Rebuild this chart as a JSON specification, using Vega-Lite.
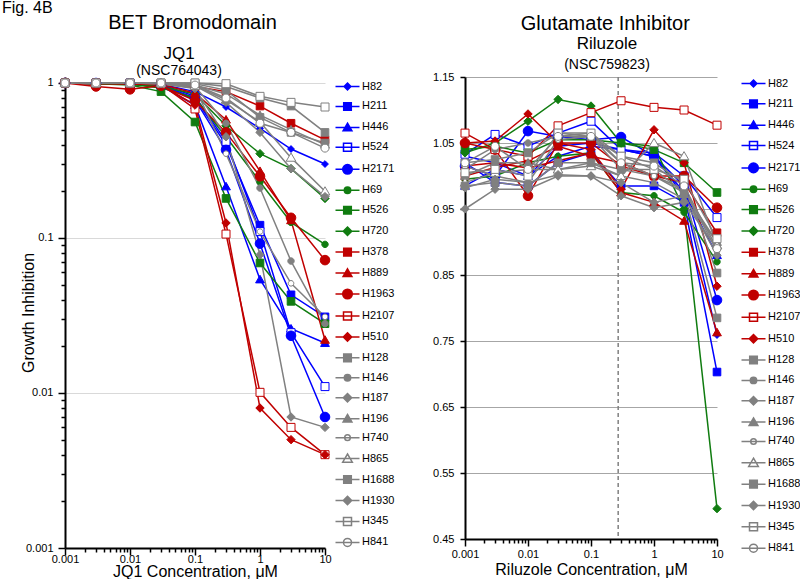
{
"$schema": "https://vega.github.io/schema/vega-lite/v6.json",
"padding": {"left": 2, "top": 0, "right": 0, "bottom": 0},
"title": {"text": "Fig. 4B", "anchor": "start", "fontSize": 16, "offset": -3, "dx": -18},
"datasets": {
"jq1": [
{"cell":"H82","x":0.001,"y":1},{"cell":"H82","x":0.003,"y":1},{"cell":"H82","x":0.01,"y":1},{"cell":"H82","x":0.03,"y":0.98},{"cell":"H82","x":0.1,"y":0.88},{"cell":"H82","x":0.3,"y":0.70},{"cell":"H82","x":1,"y":0.51},{"cell":"H82","x":3,"y":0.375},{"cell":"H82","x":10,"y":0.30},
{"cell":"H211","x":0.001,"y":1},{"cell":"H211","x":0.003,"y":1},{"cell":"H211","x":0.01,"y":0.99},{"cell":"H211","x":0.03,"y":0.97},{"cell":"H211","x":0.1,"y":0.80},{"cell":"H211","x":0.3,"y":0.40},{"cell":"H211","x":1,"y":0.121},{"cell":"H211","x":3,"y":0.043},{"cell":"H211","x":10,"y":0.031},
{"cell":"H446","x":0.001,"y":1},{"cell":"H446","x":0.003,"y":0.99},{"cell":"H446","x":0.01,"y":0.99},{"cell":"H446","x":0.03,"y":0.96},{"cell":"H446","x":0.1,"y":0.72},{"cell":"H446","x":0.3,"y":0.215},{"cell":"H446","x":1,"y":0.054},{"cell":"H446","x":3,"y":0.026},{"cell":"H446","x":10,"y":0.021},
{"cell":"H524","x":0.001,"y":1},{"cell":"H524","x":0.003,"y":1},{"cell":"H524","x":0.01,"y":1},{"cell":"H524","x":0.03,"y":0.98},{"cell":"H524","x":0.1,"y":0.82},{"cell":"H524","x":0.3,"y":0.42},{"cell":"H524","x":1,"y":0.11},{"cell":"H524","x":3,"y":0.0245},{"cell":"H524","x":10,"y":0.011},
{"cell":"H2171","x":0.001,"y":1},{"cell":"H2171","x":0.003,"y":1},{"cell":"H2171","x":0.01,"y":0.99},{"cell":"H2171","x":0.03,"y":0.97},{"cell":"H2171","x":0.1,"y":0.78},{"cell":"H2171","x":0.3,"y":0.37},{"cell":"H2171","x":1,"y":0.092},{"cell":"H2171","x":3,"y":0.0234},{"cell":"H2171","x":10,"y":0.007},
{"cell":"H69","x":0.001,"y":1},{"cell":"H69","x":0.003,"y":0.99},{"cell":"H69","x":0.01,"y":0.98},{"cell":"H69","x":0.03,"y":0.93},{"cell":"H69","x":0.1,"y":0.80},{"cell":"H69","x":0.3,"y":0.45},{"cell":"H69","x":1,"y":0.23},{"cell":"H69","x":3,"y":0.126},{"cell":"H69","x":10,"y":0.091},
{"cell":"H526","x":0.001,"y":1},{"cell":"H526","x":0.003,"y":0.99},{"cell":"H526","x":0.01,"y":0.97},{"cell":"H526","x":0.03,"y":0.88},{"cell":"H526","x":0.1,"y":0.56},{"cell":"H526","x":0.3,"y":0.18},{"cell":"H526","x":1,"y":0.069},{"cell":"H526","x":3,"y":0.039},{"cell":"H526","x":10,"y":0.028},
{"cell":"H720","x":0.001,"y":1},{"cell":"H720","x":0.003,"y":1},{"cell":"H720","x":0.01,"y":0.98},{"cell":"H720","x":0.03,"y":0.95},{"cell":"H720","x":0.1,"y":0.85},{"cell":"H720","x":0.3,"y":0.53},{"cell":"H720","x":1,"y":0.35},{"cell":"H720","x":3,"y":0.28},{"cell":"H720","x":10,"y":0.18},
{"cell":"H378","x":0.001,"y":1},{"cell":"H378","x":0.003,"y":1},{"cell":"H378","x":0.01,"y":1},{"cell":"H378","x":0.03,"y":0.99},{"cell":"H378","x":0.1,"y":0.95},{"cell":"H378","x":0.3,"y":0.88},{"cell":"H378","x":1,"y":0.71},{"cell":"H378","x":3,"y":0.55},{"cell":"H378","x":10,"y":0.43},
{"cell":"H889","x":0.001,"y":1},{"cell":"H889","x":0.003,"y":1},{"cell":"H889","x":0.01,"y":0.99},{"cell":"H889","x":0.03,"y":0.98},{"cell":"H889","x":0.1,"y":0.86},{"cell":"H889","x":0.3,"y":0.58},{"cell":"H889","x":1,"y":0.27},{"cell":"H889","x":3,"y":0.13},{"cell":"H889","x":10,"y":0.022},
{"cell":"H1963","x":0.001,"y":1},{"cell":"H1963","x":0.003,"y":0.95},{"cell":"H1963","x":0.01,"y":0.91},{"cell":"H1963","x":0.03,"y":0.96},{"cell":"H1963","x":0.1,"y":0.77},{"cell":"H1963","x":0.3,"y":0.48},{"cell":"H1963","x":1,"y":0.25},{"cell":"H1963","x":3,"y":0.135},{"cell":"H1963","x":10,"y":0.072},
{"cell":"H2107","x":0.001,"y":1},{"cell":"H2107","x":0.003,"y":1},{"cell":"H2107","x":0.01,"y":0.99},{"cell":"H2107","x":0.03,"y":0.98},{"cell":"H2107","x":0.1,"y":0.68},{"cell":"H2107","x":0.3,"y":0.106},{"cell":"H2107","x":1,"y":0.0101},{"cell":"H2107","x":3,"y":0.006},{"cell":"H2107","x":10,"y":0.004},
{"cell":"H510","x":0.001,"y":1},{"cell":"H510","x":0.003,"y":0.99},{"cell":"H510","x":0.01,"y":0.99},{"cell":"H510","x":0.03,"y":0.97},{"cell":"H510","x":0.1,"y":0.72},{"cell":"H510","x":0.3,"y":0.125},{"cell":"H510","x":1,"y":0.008},{"cell":"H510","x":3,"y":0.005},{"cell":"H510","x":10,"y":0.004},
{"cell":"H128","x":0.001,"y":1},{"cell":"H128","x":0.003,"y":1},{"cell":"H128","x":0.01,"y":1},{"cell":"H128","x":0.03,"y":1},{"cell":"H128","x":0.1,"y":1},{"cell":"H128","x":0.3,"y":0.95},{"cell":"H128","x":1,"y":0.80},{"cell":"H128","x":3,"y":0.71},{"cell":"H128","x":10,"y":0.48},
{"cell":"H146","x":0.001,"y":1},{"cell":"H146","x":0.003,"y":1},{"cell":"H146","x":0.01,"y":1},{"cell":"H146","x":0.03,"y":0.99},{"cell":"H146","x":0.1,"y":0.95},{"cell":"H146","x":0.3,"y":0.55},{"cell":"H146","x":1,"y":0.21},{"cell":"H146","x":3,"y":0.071},{"cell":"H146","x":10,"y":0.028},
{"cell":"H187","x":0.001,"y":1},{"cell":"H187","x":0.003,"y":1},{"cell":"H187","x":0.01,"y":1},{"cell":"H187","x":0.03,"y":0.99},{"cell":"H187","x":0.1,"y":0.92},{"cell":"H187","x":0.3,"y":0.45},{"cell":"H187","x":1,"y":0.078},{"cell":"H187","x":3,"y":0.007},{"cell":"H187","x":10,"y":0.006},
{"cell":"H196","x":0.001,"y":1},{"cell":"H196","x":0.003,"y":1},{"cell":"H196","x":0.01,"y":1},{"cell":"H196","x":0.03,"y":1},{"cell":"H196","x":0.1,"y":0.97},{"cell":"H196","x":0.3,"y":0.85},{"cell":"H196","x":1,"y":0.62},{"cell":"H196","x":3,"y":0.50},{"cell":"H196","x":10,"y":0.40},
{"cell":"H740","x":0.001,"y":1},{"cell":"H740","x":0.003,"y":1},{"cell":"H740","x":0.01,"y":1},{"cell":"H740","x":0.03,"y":0.99},{"cell":"H740","x":0.1,"y":0.93},{"cell":"H740","x":0.3,"y":0.35},{"cell":"H740","x":1,"y":0.11},{"cell":"H740","x":3,"y":0.051},{"cell":"H740","x":10,"y":0.031},
{"cell":"H865","x":0.001,"y":1},{"cell":"H865","x":0.003,"y":1},{"cell":"H865","x":0.01,"y":1},{"cell":"H865","x":0.03,"y":1},{"cell":"H865","x":0.1,"y":0.96},{"cell":"H865","x":0.3,"y":0.78},{"cell":"H865","x":1,"y":0.56},{"cell":"H865","x":3,"y":0.33},{"cell":"H865","x":10,"y":0.20},
{"cell":"H1688","x":0.001,"y":1},{"cell":"H1688","x":0.003,"y":1},{"cell":"H1688","x":0.01,"y":1},{"cell":"H1688","x":0.03,"y":1},{"cell":"H1688","x":0.1,"y":0.99},{"cell":"H1688","x":0.3,"y":0.90},{"cell":"H1688","x":1,"y":0.60},{"cell":"H1688","x":3,"y":0.48},{"cell":"H1688","x":10,"y":0.41},
{"cell":"H1930","x":0.001,"y":1},{"cell":"H1930","x":0.003,"y":1},{"cell":"H1930","x":0.01,"y":1},{"cell":"H1930","x":0.03,"y":1},{"cell":"H1930","x":0.1,"y":0.96},{"cell":"H1930","x":0.3,"y":0.75},{"cell":"H1930","x":1,"y":0.48},{"cell":"H1930","x":3,"y":0.28},{"cell":"H1930","x":10,"y":0.185},
{"cell":"H345","x":0.001,"y":1},{"cell":"H345","x":0.003,"y":1},{"cell":"H345","x":0.01,"y":1},{"cell":"H345","x":0.03,"y":1},{"cell":"H345","x":0.1,"y":1},{"cell":"H345","x":0.3,"y":0.99},{"cell":"H345","x":1,"y":0.82},{"cell":"H345","x":3,"y":0.75},{"cell":"H345","x":10,"y":0.70},
{"cell":"H841","x":0.001,"y":1},{"cell":"H841","x":0.003,"y":1},{"cell":"H841","x":0.01,"y":1},{"cell":"H841","x":0.03,"y":1},{"cell":"H841","x":0.1,"y":0.97},{"cell":"H841","x":0.3,"y":0.80},{"cell":"H841","x":1,"y":0.55},{"cell":"H841","x":3,"y":0.48},{"cell":"H841","x":10,"y":0.38}
],
"ril": [
{"cell":"H82","x":0.001,"y":1.03},{"cell":"H82","x":0.003,"y":1.02},{"cell":"H82","x":0.01,"y":1.0},{"cell":"H82","x":0.03,"y":1.03},{"cell":"H82","x":0.1,"y":1.045},{"cell":"H82","x":0.3,"y":1.04},{"cell":"H82","x":1,"y":1.03},{"cell":"H82","x":3,"y":0.97},{"cell":"H82","x":10,"y":0.759},
{"cell":"H211","x":0.001,"y":1.02},{"cell":"H211","x":0.003,"y":0.99},{"cell":"H211","x":0.01,"y":0.985},{"cell":"H211","x":0.03,"y":1.02},{"cell":"H211","x":0.1,"y":1.035},{"cell":"H211","x":0.3,"y":0.985},{"cell":"H211","x":1,"y":0.985},{"cell":"H211","x":3,"y":0.96},{"cell":"H211","x":10,"y":0.703},
{"cell":"H446","x":0.001,"y":0.985},{"cell":"H446","x":0.003,"y":1.01},{"cell":"H446","x":0.01,"y":1.0},{"cell":"H446","x":0.03,"y":1.045},{"cell":"H446","x":0.1,"y":1.05},{"cell":"H446","x":0.3,"y":1.04},{"cell":"H446","x":1,"y":1.03},{"cell":"H446","x":3,"y":0.975},{"cell":"H446","x":10,"y":0.88},
{"cell":"H524","x":0.001,"y":1.033},{"cell":"H524","x":0.003,"y":1.063},{"cell":"H524","x":0.01,"y":1.045},{"cell":"H524","x":0.03,"y":1.065},{"cell":"H524","x":0.1,"y":1.083},{"cell":"H524","x":0.3,"y":1.04},{"cell":"H524","x":1,"y":1.035},{"cell":"H524","x":3,"y":1.0},{"cell":"H524","x":10,"y":0.937},
{"cell":"H2171","x":0.001,"y":1.015},{"cell":"H2171","x":0.003,"y":1.0},{"cell":"H2171","x":0.01,"y":1.068},{"cell":"H2171","x":0.03,"y":1.06},{"cell":"H2171","x":0.1,"y":1.055},{"cell":"H2171","x":0.3,"y":1.059},{"cell":"H2171","x":1,"y":1.03},{"cell":"H2171","x":3,"y":0.985},{"cell":"H2171","x":10,"y":0.812},
{"cell":"H69","x":0.001,"y":0.995},{"cell":"H69","x":0.003,"y":1.0},{"cell":"H69","x":0.01,"y":1.02},{"cell":"H69","x":0.03,"y":1.03},{"cell":"H69","x":0.1,"y":1.035},{"cell":"H69","x":0.3,"y":0.975},{"cell":"H69","x":1,"y":0.97},{"cell":"H69","x":3,"y":0.945},{"cell":"H69","x":10,"y":0.87},
{"cell":"H526","x":0.001,"y":1.04},{"cell":"H526","x":0.003,"y":1.045},{"cell":"H526","x":0.01,"y":1.035},{"cell":"H526","x":0.03,"y":1.055},{"cell":"H526","x":0.1,"y":1.055},{"cell":"H526","x":0.3,"y":1.05},{"cell":"H526","x":1,"y":1.04},{"cell":"H526","x":3,"y":1.02},{"cell":"H526","x":10,"y":0.975},
{"cell":"H720","x":0.001,"y":1.035},{"cell":"H720","x":0.003,"y":1.05},{"cell":"H720","x":0.01,"y":1.083},{"cell":"H720","x":0.03,"y":1.116},{"cell":"H720","x":0.1,"y":1.106},{"cell":"H720","x":0.3,"y":1.05},{"cell":"H720","x":1,"y":1.045},{"cell":"H720","x":3,"y":0.95},{"cell":"H720","x":10,"y":0.496},
{"cell":"H378","x":0.001,"y":1.0},{"cell":"H378","x":0.003,"y":1.013},{"cell":"H378","x":0.01,"y":1.023},{"cell":"H378","x":0.03,"y":1.045},{"cell":"H378","x":0.1,"y":1.03},{"cell":"H378","x":0.3,"y":1.02},{"cell":"H378","x":1,"y":1.0},{"cell":"H378","x":3,"y":0.99},{"cell":"H378","x":10,"y":0.914},
{"cell":"H889","x":0.001,"y":1.015},{"cell":"H889","x":0.003,"y":1.02},{"cell":"H889","x":0.01,"y":1.012},{"cell":"H889","x":0.03,"y":1.023},{"cell":"H889","x":0.1,"y":1.035},{"cell":"H889","x":0.3,"y":0.975},{"cell":"H889","x":1,"y":0.96},{"cell":"H889","x":3,"y":0.932},{"cell":"H889","x":10,"y":0.763},
{"cell":"H1963","x":0.001,"y":1.05},{"cell":"H1963","x":0.003,"y":1.04},{"cell":"H1963","x":0.01,"y":0.97},{"cell":"H1963","x":0.03,"y":1.05},{"cell":"H1963","x":0.1,"y":1.05},{"cell":"H1963","x":0.3,"y":1.015},{"cell":"H1963","x":1,"y":1.0},{"cell":"H1963","x":3,"y":1.0},{"cell":"H1963","x":10,"y":0.952},
{"cell":"H2107","x":0.001,"y":1.065},{"cell":"H2107","x":0.003,"y":1.04},{"cell":"H2107","x":0.01,"y":1.03},{"cell":"H2107","x":0.03,"y":1.076},{"cell":"H2107","x":0.1,"y":1.096},{"cell":"H2107","x":0.3,"y":1.114},{"cell":"H2107","x":1,"y":1.104},{"cell":"H2107","x":3,"y":1.10},{"cell":"H2107","x":10,"y":1.077},
{"cell":"H510","x":0.001,"y":1.05},{"cell":"H510","x":0.003,"y":1.053},{"cell":"H510","x":0.01,"y":1.094},{"cell":"H510","x":0.03,"y":1.05},{"cell":"H510","x":0.1,"y":1.04},{"cell":"H510","x":0.3,"y":0.98},{"cell":"H510","x":1,"y":1.07},{"cell":"H510","x":3,"y":1.02},{"cell":"H510","x":10,"y":0.833},
{"cell":"H128","x":0.001,"y":1.02},{"cell":"H128","x":0.003,"y":1.025},{"cell":"H128","x":0.01,"y":1.035},{"cell":"H128","x":0.03,"y":1.065},{"cell":"H128","x":0.1,"y":1.06},{"cell":"H128","x":0.3,"y":1.03},{"cell":"H128","x":1,"y":1.02},{"cell":"H128","x":3,"y":0.99},{"cell":"H128","x":10,"y":0.853},
{"cell":"H146","x":0.001,"y":1.01},{"cell":"H146","x":0.003,"y":1.04},{"cell":"H146","x":0.01,"y":1.05},{"cell":"H146","x":0.03,"y":1.06},{"cell":"H146","x":0.1,"y":1.065},{"cell":"H146","x":0.3,"y":1.02},{"cell":"H146","x":1,"y":1.0},{"cell":"H146","x":3,"y":0.975},{"cell":"H146","x":10,"y":0.90},
{"cell":"H187","x":0.001,"y":0.95},{"cell":"H187","x":0.003,"y":0.98},{"cell":"H187","x":0.01,"y":0.98},{"cell":"H187","x":0.03,"y":1.0},{"cell":"H187","x":0.1,"y":1.0},{"cell":"H187","x":0.3,"y":0.97},{"cell":"H187","x":1,"y":0.952},{"cell":"H187","x":3,"y":0.96},{"cell":"H187","x":10,"y":0.89},
{"cell":"H196","x":0.001,"y":1.0},{"cell":"H196","x":0.003,"y":1.02},{"cell":"H196","x":0.01,"y":1.02},{"cell":"H196","x":0.03,"y":1.01},{"cell":"H196","x":0.1,"y":1.02},{"cell":"H196","x":0.3,"y":1.0},{"cell":"H196","x":1,"y":0.99},{"cell":"H196","x":3,"y":0.965},{"cell":"H196","x":10,"y":0.90},
{"cell":"H740","x":0.001,"y":1.015},{"cell":"H740","x":0.003,"y":1.0},{"cell":"H740","x":0.01,"y":0.99},{"cell":"H740","x":0.03,"y":1.055},{"cell":"H740","x":0.1,"y":1.06},{"cell":"H740","x":0.3,"y":1.01},{"cell":"H740","x":1,"y":1.0},{"cell":"H740","x":3,"y":0.98},{"cell":"H740","x":10,"y":0.886},
{"cell":"H865","x":0.001,"y":0.99},{"cell":"H865","x":0.003,"y":1.005},{"cell":"H865","x":0.01,"y":1.01},{"cell":"H865","x":0.03,"y":1.01},{"cell":"H865","x":0.1,"y":1.015},{"cell":"H865","x":0.3,"y":1.0},{"cell":"H865","x":1,"y":1.05},{"cell":"H865","x":3,"y":1.03},{"cell":"H865","x":10,"y":0.895},
{"cell":"H1688","x":0.001,"y":0.985},{"cell":"H1688","x":0.003,"y":0.99},{"cell":"H1688","x":0.01,"y":0.985},{"cell":"H1688","x":0.03,"y":1.02},{"cell":"H1688","x":0.1,"y":1.02},{"cell":"H1688","x":0.3,"y":1.01},{"cell":"H1688","x":1,"y":1.01},{"cell":"H1688","x":3,"y":0.975},{"cell":"H1688","x":10,"y":0.785},
{"cell":"H1930","x":0.001,"y":0.982},{"cell":"H1930","x":0.003,"y":0.995},{"cell":"H1930","x":0.01,"y":0.99},{"cell":"H1930","x":0.03,"y":1.002},{"cell":"H1930","x":0.1,"y":1.0},{"cell":"H1930","x":0.3,"y":0.99},{"cell":"H1930","x":1,"y":0.96},{"cell":"H1930","x":3,"y":0.97},{"cell":"H1930","x":10,"y":0.88},
{"cell":"H345","x":0.001,"y":1.005},{"cell":"H345","x":0.003,"y":1.01},{"cell":"H345","x":0.01,"y":1.0},{"cell":"H345","x":0.03,"y":1.065},{"cell":"H345","x":0.1,"y":1.065},{"cell":"H345","x":0.3,"y":1.03},{"cell":"H345","x":1,"y":1.01},{"cell":"H345","x":3,"y":0.995},{"cell":"H345","x":10,"y":0.905},
{"cell":"H841","x":0.001,"y":1.02},{"cell":"H841","x":0.003,"y":1.045},{"cell":"H841","x":0.01,"y":1.01},{"cell":"H841","x":0.03,"y":1.06},{"cell":"H841","x":0.1,"y":1.06},{"cell":"H841","x":0.3,"y":1.02},{"cell":"H841","x":1,"y":1.015},{"cell":"H841","x":3,"y":0.985},{"cell":"H841","x":10,"y":0.89}
]
},
"spacing": 33,
"hconcat": [
{
"title": {"text": "BET Bromodomain", "fontSize": 20, "dx": -17, "offset": 12},
"vconcat": [{
"width": 260, "height": 471,
"data": {"name": "jq1"},
"title": {"text": "JQ1", "subtitle": "(NSC764043)", "fontSize": 17, "subtitleFontSize": 14, "subtitlePadding": 1, "frame": "group", "dx": -16, "offset": -3},
"layer": [
{"mark": {"type": "line", "strokeWidth": 1.5},
 "encoding": {
  "x": {"field": "x", "type": "quantitative", "scale": {"type": "log", "domain": [0.001, 10], "nice": false},
   "axis": {"title": "JQ1 Concentration, μM", "grid": false, "format": "~g", "labelFlush": false, "labelOverlap": false, "labelPadding": -2, "titlePadding": -1,
    "values": [0.001,0.002,0.003,0.004,0.005,0.006,0.007,0.008,0.009,0.01,0.02,0.03,0.04,0.05,0.06,0.07,0.08,0.09,0.1,0.2,0.3,0.4,0.5,0.6,0.7,0.8,0.9,1,2,3,4,5,6,7,8,9,10],
    "labelExpr": "indexof([0.001,0.01,0.1,1,10], datum.value) >= 0 ? datum.label : ''",
    "tickSize": {"condition": {"test": "indexof([0.001,0.01,0.1,1,10], datum.value) >= 0", "value": 7}, "value": 4}}},
  "y": {"field": "y", "type": "quantitative", "scale": {"type": "log", "domain": [0.001, 1.0932], "nice": false},
   "axis": {"title": "Growth Inhibition", "titleX": -37, "titleBaseline": "middle", "format": "~g", "labelOverlap": false, "labelPadding": 5,
    "values": [0.001,0.002,0.003,0.004,0.005,0.006,0.007,0.008,0.009,0.01,0.02,0.03,0.04,0.05,0.06,0.07,0.08,0.09,0.1,0.2,0.3,0.4,0.5,0.6,0.7,0.8,0.9,1],
    "labelExpr": "indexof([0.001,0.01,0.1,1], datum.value) >= 0 ? datum.label : ''",
    "grid": true, "gridColor": "#d9d9d9",
    "gridOpacity": {"condition": {"test": "indexof([0.01,0.1,1], datum.value) >= 0", "value": 1}, "value": 0},
    "tickSize": {"condition": {"test": "indexof([0.001,0.01,0.1,1], datum.value) >= 0", "value": 7}, "value": 4}}},
  "stroke": {"field": "cell", "type": "nominal", "legend": null,
   "scale": {"domain": ["H82","H211","H446","H524","H2171","H69","H526","H720","H378","H889","H1963","H2107","H510","H128","H146","H187","H196","H740","H865","H1688","H1930","H345","H841"],
    "range": ["#0000FF","#0000FF","#0000FF","#0000FF","#0000FF","#107C10","#107C10","#107C10","#C00000","#C00000","#C00000","#C00000","#C00000","#808080","#808080","#808080","#808080","#808080","#808080","#808080","#808080","#808080","#808080"]}}
 }},
{"mark": {"type": "point", "filled": true, "size": 64, "opacity": 1, "strokeWidth": 1},
 "encoding": {
  "x": {"field": "x", "type": "quantitative"},
  "y": {"field": "y", "type": "quantitative"},
  "shape": {"field": "cell", "type": "nominal", "legend": null,
   "scale": {"domain": ["H82","H211","H446","H524","H2171","H69","H526","H720","H378","H889","H1963","H2107","H510","H128","H146","H187","H196","H740","H865","H1688","H1930","H345","H841"],
    "range": ["M0,-0.85L0.85,0L0,0.85L-0.85,0Z","M-0.95,-0.95H0.95V0.95H-0.95Z","M0,-1.05L1.1,0.85H-1.1Z","M-1,-1H1V1H-1Z","M-1.2,0A1.2,1.2,0,1,0,1.2,0A1.2,1.2,0,1,0,-1.2,0Z","M-0.8,0A0.8,0.8,0,1,0,0.8,0A0.8,0.8,0,1,0,-0.8,0Z","M-0.95,-0.95H0.95V0.95H-0.95Z","M0,-1.05L1.05,0L0,1.05L-1.05,0Z","M-0.95,-0.95H0.95V0.95H-0.95Z","M0,-1.05L1.1,0.85H-1.1Z","M-1.2,0A1.2,1.2,0,1,0,1.2,0A1.2,1.2,0,1,0,-1.2,0Z","M-1,-1H1V1H-1Z","M0,-1.05L1.05,0L0,1.05L-1.05,0Z","M-0.95,-0.95H0.95V0.95H-0.95Z","M-0.8,0A0.8,0.8,0,1,0,0.8,0A0.8,0.8,0,1,0,-0.8,0Z","M0,-1.05L1.05,0L0,1.05L-1.05,0Z","M0,-1.05L1.1,0.85H-1.1Z","M-0.7,0A0.7,0.7,0,1,0,0.7,0A0.7,0.7,0,1,0,-0.7,0Z","M0,-1.15L1.2,0.9H-1.2Z","M-0.95,-0.95H0.95V0.95H-0.95Z","M0,-1.05L1.05,0L0,1.05L-1.05,0Z","M-1,-1H1V1H-1Z","M-1,0A1,1,0,1,0,1,0A1,1,0,1,0,-1,0Z"]}},
  "stroke": {"field": "cell", "type": "nominal", "legend": null,
   "scale": {"domain": ["H82","H211","H446","H524","H2171","H69","H526","H720","H378","H889","H1963","H2107","H510","H128","H146","H187","H196","H740","H865","H1688","H1930","H345","H841"],
    "range": ["#0000FF","#0000FF","#0000FF","#0000FF","#0000FF","#107C10","#107C10","#107C10","#C00000","#C00000","#C00000","#C00000","#C00000","#808080","#808080","#808080","#808080","#808080","#808080","#808080","#808080","#808080","#808080"]}},
  "fill": {"field": "cell", "type": "nominal", "legend": null,
   "scale": {"domain": ["H82","H211","H446","H524","H2171","H69","H526","H720","H378","H889","H1963","H2107","H510","H128","H146","H187","H196","H740","H865","H1688","H1930","H345","H841"],
    "range": ["#0000FF","#0000FF","#0000FF","#FFFFFF","#0000FF","#107C10","#107C10","#107C10","#C00000","#C00000","#C00000","#FFFFFF","#C00000","#808080","#808080","#808080","#808080","#FFFFFF","#FFFFFF","#808080","#808080","#FFFFFF","#FFFFFF"]}}
 }},
{"transform": [{"filter": "false"}],
 "mark": {"type": "point", "filled": true, "size": 64, "opacity": 1, "strokeWidth": 1.5},
 "encoding": {
  "x": {"field": "x", "type": "quantitative"},
  "y": {"field": "y", "type": "quantitative"},
  "shape": {"field": "cell", "type": "nominal",
   "legend": {"title": null, "offset": 10, "padding": 4, "rowPadding": 5.95, "labelFontSize": 11, "labelOffset": 9, "symbolSize": 64, "symbolStrokeWidth": 1.5, "symbolFillColor": "#FFFFFF", "symbolOpacity": 1, "labelColor": "black"},
   "scale": {"domain": ["H82","H211","H446","H524","H2171","H69","H526","H720","H378","H889","H1963","H2107","H510","H128","H146","H187","H196","H740","H865","H1688","H1930","H345","H841"],
    "range": ["M-3,0H3M0,-0.85L0.85,0L0,0.85L-0.85,0Z","M-3,0H3M-0.95,-0.95H0.95V0.95H-0.95Z","M-3,0H3M0,-1.05L1.1,0.85H-1.1Z","M-3,0H3M-1,-1H1V1H-1Z","M-3,0H3M-1.2,0A1.2,1.2,0,1,0,1.2,0A1.2,1.2,0,1,0,-1.2,0Z","M-3,0H3M-0.8,0A0.8,0.8,0,1,0,0.8,0A0.8,0.8,0,1,0,-0.8,0Z","M-3,0H3M-0.95,-0.95H0.95V0.95H-0.95Z","M-3,0H3M0,-1.05L1.05,0L0,1.05L-1.05,0Z","M-3,0H3M-0.95,-0.95H0.95V0.95H-0.95Z","M-3,0H3M0,-1.05L1.1,0.85H-1.1Z","M-3,0H3M-1.2,0A1.2,1.2,0,1,0,1.2,0A1.2,1.2,0,1,0,-1.2,0Z","M-3,0H3M-1,-1H1V1H-1Z","M-3,0H3M0,-1.05L1.05,0L0,1.05L-1.05,0Z","M-3,0H3M-0.95,-0.95H0.95V0.95H-0.95Z","M-3,0H3M-0.8,0A0.8,0.8,0,1,0,0.8,0A0.8,0.8,0,1,0,-0.8,0Z","M-3,0H3M0,-1.05L1.05,0L0,1.05L-1.05,0Z","M-3,0H3M0,-1.05L1.1,0.85H-1.1Z","M-3,0H3M-0.7,0A0.7,0.7,0,1,0,0.7,0A0.7,0.7,0,1,0,-0.7,0Z","M-3,0H3M0,-1.15L1.2,0.9H-1.2Z","M-3,0H3M-0.95,-0.95H0.95V0.95H-0.95Z","M-3,0H3M0,-1.05L1.05,0L0,1.05L-1.05,0Z","M-3,0H3M-1,-1H1V1H-1Z","M-3,0H3M-1,0A1,1,0,1,0,1,0A1,1,0,1,0,-1,0Z"]}},
  "stroke": {"field": "cell", "type": "nominal",
   "legend": {"title": null, "offset": 10, "padding": 4, "rowPadding": 5.95, "labelFontSize": 11, "labelOffset": 9, "symbolSize": 64, "symbolStrokeWidth": 1.5, "symbolFillColor": "#FFFFFF", "symbolOpacity": 1, "labelColor": "black"},
   "scale": {"domain": ["H82","H211","H446","H524","H2171","H69","H526","H720","H378","H889","H1963","H2107","H510","H128","H146","H187","H196","H740","H865","H1688","H1930","H345","H841"],
    "range": ["#0000FF","#0000FF","#0000FF","#0000FF","#0000FF","#107C10","#107C10","#107C10","#C00000","#C00000","#C00000","#C00000","#C00000","#808080","#808080","#808080","#808080","#808080","#808080","#808080","#808080","#808080","#808080"]}},
  "fill": {"field": "cell", "type": "nominal",
   "legend": {"title": null, "offset": 10, "padding": 4, "rowPadding": 5.95, "labelFontSize": 11, "labelOffset": 9, "symbolSize": 64, "symbolStrokeWidth": 1.5, "symbolFillColor": "#FFFFFF", "symbolOpacity": 1, "labelColor": "black"},
   "scale": {"domain": ["H82","H211","H446","H524","H2171","H69","H526","H720","H378","H889","H1963","H2107","H510","H128","H146","H187","H196","H740","H865","H1688","H1930","H345","H841"],
    "range": ["#0000FF","#0000FF","#0000FF","#FFFFFF","#0000FF","#107C10","#107C10","#107C10","#C00000","#C00000","#C00000","#FFFFFF","#C00000","#808080","#808080","#808080","#808080","#FFFFFF","#FFFFFF","#808080","#808080","#FFFFFF","#FFFFFF"]}}
 }}
],
"resolve": {"scale": {"shape": "independent", "stroke": "independent", "fill": "independent"}}
}]
},
{
"title": {"text": "Glutamate Inhibitor", "fontSize": 20, "dx": -12, "offset": 1.5},
"vconcat": [{
"width": 252, "height": 462,
"data": {"name": "ril"},
"title": {"text": "Riluzole", "subtitle": "(NSC759823)", "fontSize": 17, "subtitleFontSize": 14, "subtitlePadding": 5, "frame": "group", "dx": 16, "offset": -2},
"layer": [
{"data": {"values": [{"v": 0.27}]},
 "mark": {"type": "rule", "strokeDash": [4, 3], "color": "#808080", "strokeWidth": 1.5},
 "encoding": {"x": {"field": "v", "type": "quantitative"}}},
{"mark": {"type": "line", "strokeWidth": 1.5},
 "encoding": {
  "x": {"field": "x", "type": "quantitative", "scale": {"type": "log", "domain": [0.001, 10], "nice": false},
   "axis": {"title": "Riluzole Concentration, μM", "grid": false, "format": "~g", "labelFlush": false, "labelOverlap": false, "labelPadding": 2, "titlePadding": 2,
    "values": [0.001,0.002,0.003,0.004,0.005,0.006,0.007,0.008,0.009,0.01,0.02,0.03,0.04,0.05,0.06,0.07,0.08,0.09,0.1,0.2,0.3,0.4,0.5,0.6,0.7,0.8,0.9,1,2,3,4,5,6,7,8,9,10],
    "labelExpr": "indexof([0.001,0.01,0.1,1,10], datum.value) >= 0 ? datum.label : ''",
    "tickSize": {"condition": {"test": "indexof([0.001,0.01,0.1,1,10], datum.value) >= 0", "value": 7}, "value": 4}}},
  "y": {"field": "y", "type": "quantitative", "scale": {"domain": [0.45, 1.15], "nice": false, "zero": false},
   "axis": {"title": null, "labelOverlap": false, "labelPadding": 6, "tickSize": 5,
    "values": [0.45,0.5,0.55,0.6,0.65,0.7,0.75,0.8,0.85,0.9,0.95,1,1.05,1.1,1.15],
    "labelExpr": "round(datum.value*100) % 10 == 5 ? format(datum.value, '.2f') : ''",
    "grid": true, "gridColor": "#a6a6a6",
    "gridOpacity": {"condition": {"test": "round(datum.value*100) % 10 == 5", "value": 1}, "value": 0}}},
  "stroke": {"field": "cell", "type": "nominal", "legend": null,
   "scale": {"domain": ["H82","H211","H446","H524","H2171","H69","H526","H720","H378","H889","H1963","H2107","H510","H128","H146","H187","H196","H740","H865","H1688","H1930","H345","H841"],
    "range": ["#0000FF","#0000FF","#0000FF","#0000FF","#0000FF","#107C10","#107C10","#107C10","#C00000","#C00000","#C00000","#C00000","#C00000","#808080","#808080","#808080","#808080","#808080","#808080","#808080","#808080","#808080","#808080"]}}
 }},
{"mark": {"type": "point", "filled": true, "size": 64, "opacity": 1, "strokeWidth": 1},
 "encoding": {
  "x": {"field": "x", "type": "quantitative"},
  "y": {"field": "y", "type": "quantitative"},
  "shape": {"field": "cell", "type": "nominal", "legend": null,
   "scale": {"domain": ["H82","H211","H446","H524","H2171","H69","H526","H720","H378","H889","H1963","H2107","H510","H128","H146","H187","H196","H740","H865","H1688","H1930","H345","H841"],
    "range": ["M0,-0.85L0.85,0L0,0.85L-0.85,0Z","M-0.95,-0.95H0.95V0.95H-0.95Z","M0,-1.05L1.1,0.85H-1.1Z","M-1,-1H1V1H-1Z","M-1.2,0A1.2,1.2,0,1,0,1.2,0A1.2,1.2,0,1,0,-1.2,0Z","M-0.8,0A0.8,0.8,0,1,0,0.8,0A0.8,0.8,0,1,0,-0.8,0Z","M-0.95,-0.95H0.95V0.95H-0.95Z","M0,-1.05L1.05,0L0,1.05L-1.05,0Z","M-0.95,-0.95H0.95V0.95H-0.95Z","M0,-1.05L1.1,0.85H-1.1Z","M-1.2,0A1.2,1.2,0,1,0,1.2,0A1.2,1.2,0,1,0,-1.2,0Z","M-1,-1H1V1H-1Z","M0,-1.05L1.05,0L0,1.05L-1.05,0Z","M-0.95,-0.95H0.95V0.95H-0.95Z","M-0.8,0A0.8,0.8,0,1,0,0.8,0A0.8,0.8,0,1,0,-0.8,0Z","M0,-1.05L1.05,0L0,1.05L-1.05,0Z","M0,-1.05L1.1,0.85H-1.1Z","M-0.7,0A0.7,0.7,0,1,0,0.7,0A0.7,0.7,0,1,0,-0.7,0Z","M0,-1.15L1.2,0.9H-1.2Z","M-0.95,-0.95H0.95V0.95H-0.95Z","M0,-1.05L1.05,0L0,1.05L-1.05,0Z","M-1,-1H1V1H-1Z","M-1,0A1,1,0,1,0,1,0A1,1,0,1,0,-1,0Z"]}},
  "stroke": {"field": "cell", "type": "nominal", "legend": null,
   "scale": {"domain": ["H82","H211","H446","H524","H2171","H69","H526","H720","H378","H889","H1963","H2107","H510","H128","H146","H187","H196","H740","H865","H1688","H1930","H345","H841"],
    "range": ["#0000FF","#0000FF","#0000FF","#0000FF","#0000FF","#107C10","#107C10","#107C10","#C00000","#C00000","#C00000","#C00000","#C00000","#808080","#808080","#808080","#808080","#808080","#808080","#808080","#808080","#808080","#808080"]}},
  "fill": {"field": "cell", "type": "nominal", "legend": null,
   "scale": {"domain": ["H82","H211","H446","H524","H2171","H69","H526","H720","H378","H889","H1963","H2107","H510","H128","H146","H187","H196","H740","H865","H1688","H1930","H345","H841"],
    "range": ["#0000FF","#0000FF","#0000FF","#FFFFFF","#0000FF","#107C10","#107C10","#107C10","#C00000","#C00000","#C00000","#FFFFFF","#C00000","#808080","#808080","#808080","#808080","#FFFFFF","#FFFFFF","#808080","#808080","#FFFFFF","#FFFFFF"]}}
 }},
{"transform": [{"filter": "false"}],
 "mark": {"type": "point", "filled": true, "size": 64, "opacity": 1, "strokeWidth": 1.5},
 "encoding": {
  "x": {"field": "x", "type": "quantitative"},
  "y": {"field": "y", "type": "quantitative"},
  "shape": {"field": "cell", "type": "nominal",
   "legend": {"title": null, "offset": 27, "padding": 1, "rowPadding": 6.35, "labelFontSize": 11, "labelOffset": 9, "symbolSize": 64, "symbolStrokeWidth": 1.5, "symbolFillColor": "#FFFFFF", "symbolOpacity": 1, "labelColor": "black"},
   "scale": {"domain": ["H82","H211","H446","H524","H2171","H69","H526","H720","H378","H889","H1963","H2107","H510","H128","H146","H187","H196","H740","H865","H1688","H1930","H345","H841"],
    "range": ["M-3,0H3M0,-0.85L0.85,0L0,0.85L-0.85,0Z","M-3,0H3M-0.95,-0.95H0.95V0.95H-0.95Z","M-3,0H3M0,-1.05L1.1,0.85H-1.1Z","M-3,0H3M-1,-1H1V1H-1Z","M-3,0H3M-1.2,0A1.2,1.2,0,1,0,1.2,0A1.2,1.2,0,1,0,-1.2,0Z","M-3,0H3M-0.8,0A0.8,0.8,0,1,0,0.8,0A0.8,0.8,0,1,0,-0.8,0Z","M-3,0H3M-0.95,-0.95H0.95V0.95H-0.95Z","M-3,0H3M0,-1.05L1.05,0L0,1.05L-1.05,0Z","M-3,0H3M-0.95,-0.95H0.95V0.95H-0.95Z","M-3,0H3M0,-1.05L1.1,0.85H-1.1Z","M-3,0H3M-1.2,0A1.2,1.2,0,1,0,1.2,0A1.2,1.2,0,1,0,-1.2,0Z","M-3,0H3M-1,-1H1V1H-1Z","M-3,0H3M0,-1.05L1.05,0L0,1.05L-1.05,0Z","M-3,0H3M-0.95,-0.95H0.95V0.95H-0.95Z","M-3,0H3M-0.8,0A0.8,0.8,0,1,0,0.8,0A0.8,0.8,0,1,0,-0.8,0Z","M-3,0H3M0,-1.05L1.05,0L0,1.05L-1.05,0Z","M-3,0H3M0,-1.05L1.1,0.85H-1.1Z","M-3,0H3M-0.7,0A0.7,0.7,0,1,0,0.7,0A0.7,0.7,0,1,0,-0.7,0Z","M-3,0H3M0,-1.15L1.2,0.9H-1.2Z","M-3,0H3M-0.95,-0.95H0.95V0.95H-0.95Z","M-3,0H3M0,-1.05L1.05,0L0,1.05L-1.05,0Z","M-3,0H3M-1,-1H1V1H-1Z","M-3,0H3M-1,0A1,1,0,1,0,1,0A1,1,0,1,0,-1,0Z"]}},
  "stroke": {"field": "cell", "type": "nominal",
   "legend": {"title": null, "offset": 27, "padding": 1, "rowPadding": 6.35, "labelFontSize": 11, "labelOffset": 9, "symbolSize": 64, "symbolStrokeWidth": 1.5, "symbolFillColor": "#FFFFFF", "symbolOpacity": 1, "labelColor": "black"},
   "scale": {"domain": ["H82","H211","H446","H524","H2171","H69","H526","H720","H378","H889","H1963","H2107","H510","H128","H146","H187","H196","H740","H865","H1688","H1930","H345","H841"],
    "range": ["#0000FF","#0000FF","#0000FF","#0000FF","#0000FF","#107C10","#107C10","#107C10","#C00000","#C00000","#C00000","#C00000","#C00000","#808080","#808080","#808080","#808080","#808080","#808080","#808080","#808080","#808080","#808080"]}},
  "fill": {"field": "cell", "type": "nominal",
   "legend": {"title": null, "offset": 27, "padding": 1, "rowPadding": 6.35, "labelFontSize": 11, "labelOffset": 9, "symbolSize": 64, "symbolStrokeWidth": 1.5, "symbolFillColor": "#FFFFFF", "symbolOpacity": 1, "labelColor": "black"},
   "scale": {"domain": ["H82","H211","H446","H524","H2171","H69","H526","H720","H378","H889","H1963","H2107","H510","H128","H146","H187","H196","H740","H865","H1688","H1930","H345","H841"],
    "range": ["#0000FF","#0000FF","#0000FF","#FFFFFF","#0000FF","#107C10","#107C10","#107C10","#C00000","#C00000","#C00000","#FFFFFF","#C00000","#808080","#808080","#808080","#808080","#FFFFFF","#FFFFFF","#808080","#808080","#FFFFFF","#FFFFFF"]}}
 }}
],
"resolve": {"scale": {"shape": "independent", "stroke": "independent", "fill": "independent"}}
}]
}
],
"config": {
 "font": "Liberation Sans",
 "view": {"stroke": null},
 "title": {"fontWeight": "normal", "color": "black", "subtitleColor": "black", "subtitleFont": "Liberation Sans", "font": "Liberation Sans", "anchor": "middle"},
 "axis": {"domainColor": "black", "domainWidth": 2, "tickColor": "black", "tickWidth": 1.5, "labelColor": "black", "labelFontSize": 11, "labelFont": "Liberation Sans", "titleFont": "Liberation Sans", "titleFontSize": 16, "titleFontWeight": "normal", "titleColor": "black"},
 "legend": {"labelFont": "Liberation Sans"}
}
}
